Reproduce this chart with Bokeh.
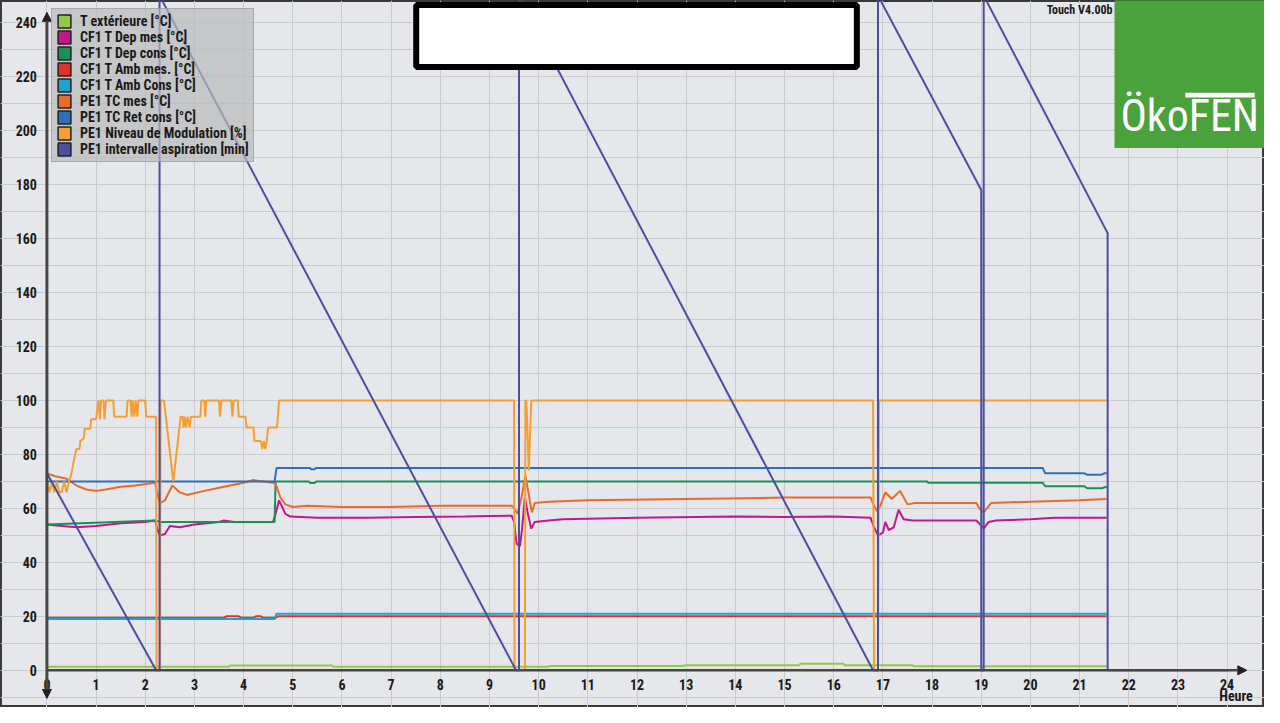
from bokeh.plotting import figure
from bokeh.models import Range1d, FixedTicker, Legend, LegendItem, Arrow, NormalHead, Label
from bokeh.embed import file_html
from bokeh.resources import INLINE

# ---------------- data ----------------
x_ticks = list(range(0, 25))
y_ticks = list(range(0, 241, 20))
y_minor = list(range(-10, 241, 10))

series_names = [
    "T extérieure [°C]",
    "CF1 T Dep mes [°C]",
    "CF1 T Dep cons [°C]",
    "CF1 T Amb mes. [°C]",
    "CF1 T Amb Cons [°C]",
    "PE1 TC mes [°C]",
    "PE1 TC Ret cons [°C]",
    "PE1 Niveau de Modulation [%]",
    "PE1 intervalle aspiration [min]",
]
series_colors = ["#93c94a", "#c4168a", "#1b8f55", "#e2302b", "#1ea2d2",
                 "#e96b2c", "#2d6fba", "#f59e33", "#4b4fa0"]

t_ext_t = [0, 3.7, 3.72, 5.8, 5.82, 10.2, 10.22, 12.95, 12.97, 15.3, 15.32, 16.2, 16.22, 17.6, 17.62, 21.55]
t_ext_v = [1.3, 1.3, 1.8, 1.8, 1.3, 1.3, 1.6, 1.6, 1.9, 1.9, 2.4, 2.4, 1.9, 1.9, 1.5, 1.5]

dep_mes_t = [0, 0.3, 0.6, 1.0, 1.5, 2.0, 2.2, 2.25, 2.3, 2.4, 2.5, 2.7, 3.0, 3.5, 3.6, 3.8, 4.0, 4.6,
             4.65, 4.72, 4.85, 4.95, 5.5, 6.5, 7.5, 8.5, 9.0, 9.45, 9.5, 9.55, 9.62, 9.66, 9.72, 9.78,
             9.85, 9.92, 10.2, 10.5, 12, 14, 15, 16, 16.75, 16.82, 16.9, 17.0, 17.05, 17.12, 17.22,
             17.32, 17.42, 17.6, 18.9, 18.98, 19.05, 19.15, 19.3, 20, 20.5, 21.55]
dep_mes_v = [54, 53.5, 53, 53.5, 54.5, 55, 55.5, 52, 50, 50.5, 53.5, 53, 54, 55, 55.5, 55, 55, 55,
             58, 63, 58, 57, 56.5, 56.5, 56.8, 57, 57.2, 57.3, 55, 47, 46, 52, 64, 58,
             52.5, 55, 55.5, 56, 56.5, 57, 56.8, 57, 56.5, 53, 50, 51, 55, 52, 53,
             59.5, 56, 55.5, 55.5, 54, 52.5, 55, 55.5, 56, 56.5, 56.5]

dep_cons_t = [0, 2.2, 2.3, 4.63, 4.65, 5.33, 5.35, 5.45, 5.47, 17.9, 17.92, 20.25, 20.3, 21.1, 21.15, 21.45, 21.55]
dep_cons_v = [54, 55.5, 55, 55, 70, 70, 69.4, 69.4, 70, 70, 69.5, 69.5, 68.2, 68.2, 67.5, 67.5, 68]

amb_mes_t = [0, 3.6, 3.65, 3.9, 3.95, 4.2, 4.25, 4.35, 4.4, 4.65, 4.7, 21.55]
amb_mes_v = [19.5, 19.5, 20, 20, 19.5, 19.5, 20, 20, 19.5, 19.5, 20, 20]

amb_cons_t = [0, 4.63, 4.67, 21.55]
amb_cons_v = [19, 19, 21, 21]

tc_mes_t = [0, 0.15, 0.4, 0.6, 0.8, 1.0, 1.2, 1.5, 1.8, 2.2, 2.24, 2.3, 2.4, 2.55, 2.7, 2.85, 3.2, 3.6,
            4.0, 4.2, 4.4, 4.6, 4.65, 4.75, 4.85, 5.0, 5.3, 6, 7, 8, 9, 9.45, 9.5, 9.57, 9.65, 9.73,
            9.8, 9.86, 9.92, 10.2, 11, 13, 15, 16.75, 16.82, 16.88, 16.95, 17.05, 17.18, 17.35, 17.5,
            17.65, 18.9, 18.98, 19.05, 19.2, 20, 21, 21.55]
tc_mes_v = [73, 72, 71, 68.5, 67, 66.5, 67, 68, 68.5, 69.5, 66, 62, 63, 68.5, 66, 65, 66.5, 68,
            69.5, 70.5, 70, 69.5, 69, 64, 61.5, 60.5, 61, 60.5, 60.5, 61, 61, 61, 60, 58, 64, 72,
            65, 58.5, 62, 62.5, 63, 63.5, 64, 64, 61, 59, 61, 66, 63.5, 66.5, 61.5,
            62, 62, 59.5, 58.5, 62, 62.5, 63, 63.5]

ret_cons_t = [0, 4.63, 4.67, 5.35, 5.37, 5.45, 5.47, 20.25, 20.3, 21.1, 21.15, 21.45, 21.5, 21.55]
ret_cons_v = [70, 70, 75, 75, 74.5, 74.5, 75, 75, 73, 73, 72.5, 72.5, 73, 73]

modul_t = [0, 0.05, 0.1, 0.15, 0.2, 0.25, 0.3, 0.35, 0.4, 0.45, 0.5, 0.55, 0.6, 0.66, 0.68, 0.75,
           0.77, 0.88, 0.9, 1.0, 1.05, 1.08, 1.1, 1.15, 1.17, 1.2, 1.35, 1.37, 1.62, 1.64, 1.7,
           1.72, 1.74, 1.78, 1.8, 1.84, 1.86, 2.0, 2.02, 2.22, 2.23, 2.3, 2.31, 2.38, 2.57, 2.72,
           2.76, 2.78, 2.8, 2.83, 2.86, 2.9, 2.93, 3.12, 3.14, 3.2, 3.22, 3.24, 3.5, 3.52, 3.55,
           3.75, 3.77, 3.8, 3.88, 3.9, 4.04, 4.06, 4.2, 4.22, 4.35, 4.38, 4.41, 4.44, 4.47, 4.5,
           4.68, 4.72, 9.5, 9.51, 9.72, 9.73, 9.75, 9.8, 9.85, 16.8, 16.82, 16.9, 16.92, 21.55]
modul_v = [70, 66, 70, 66, 70, 66, 66, 70, 66, 70, 73, 78, 82, 82, 85, 86,
           89.5, 89.5, 93, 93, 100, 93, 100, 100, 93, 100, 100, 94, 94, 100, 100,
           94, 100, 94, 100, 94, 100, 100, 94, 94, 0, 0, 100, 100, 70, 94,
           94, 90, 94, 90, 94, 90, 94, 94, 100, 100, 94, 100, 100, 94, 100,
           100, 94, 100, 100, 94, 94, 90, 90, 85, 85, 82, 85, 82, 85, 90,
           90, 100, 100, 0, 0, 100, 100, 74, 100, 100, 0, 0, 100, 100]

aspir_t = [0, 0, 2.22, 2.29, 2.29, 9.54, 9.6, 9.6, 16.8, 16.9, 16.9, 19.0, 19.0, 19.05, 19.05, 21.57, 21.57, 24]
aspir_v = [0, 73, 0, 0, 250, 0, 0, 250, 0, 0, 250, 178, 0, 0, 250, 162, 0, 0]

series_t = [t_ext_t, dep_mes_t, dep_cons_t, amb_mes_t, amb_cons_t, tc_mes_t, ret_cons_t, modul_t, aspir_t]
series_v = [t_ext_v, dep_mes_v, dep_cons_v, amb_mes_v, amb_cons_v, tc_mes_v, ret_cons_v, modul_v, aspir_v]

# ---------------- styles ----------------
BG = "#e5e7ea"
GRID = "#c8cbd0"
AXIS = "#474747"
FONT = "Liberation Sans Narrow, Roboto Condensed, DejaVu Sans Condensed, sans-serif"
NAN = float("nan")

p = figure(width=1264, height=707, output_backend="svg", toolbar_location=None,
           x_range=Range1d(-0.944, 24.76), y_range=Range1d(-13.77, 248.2),
           min_border=0, background_fill_color=BG, border_fill_color=BG,
           outline_line_color="#3a3a3a", outline_line_width=3)

# axes inside the frame
p.xaxis.fixed_location = 0
p.yaxis.fixed_location = 0
p.xaxis.ticker = FixedTicker(ticks=x_ticks)
p.yaxis.ticker = FixedTicker(ticks=y_ticks, minor_ticks=y_minor)
for ax in (p.xaxis, p.yaxis):
    ax.axis_line_color = None
    ax.major_tick_line_color = None
    ax.minor_tick_line_color = None
    ax.major_label_text_font = FONT
    ax.major_label_text_font_style = "bold"
    ax.major_label_text_font_size = "14px"
    ax.major_label_text_color = "#1a1a1a"
p.xaxis.major_label_text_align = "left"
p.xaxis.major_label_standoff = 3
p.yaxis.major_label_standoff = 4

p.xgrid.grid_line_color = GRID
p.ygrid.grid_line_color = GRID
p.ygrid.minor_grid_line_color = GRID

# series lines
for t, v, c in zip(series_t, series_v, series_colors):
    p.line(t, v, line_color=c, line_width=2)

# axis arrows
p.add_layout(Arrow(start=NormalHead(size=9, fill_color="#222222", line_color="#222222"),
                   end=NormalHead(size=9, fill_color="#222222", line_color="#222222"),
                   x_start=0, y_start=-10.4, x_end=0, y_end=243.8,
                   line_color=AXIS, line_width=3))
p.add_layout(Arrow(end=NormalHead(size=9, fill_color="#222222", line_color="#222222"),
                   x_start=0, y_start=0, x_end=24.4, y_end=0,
                   line_color=AXIS, line_width=2.5))

p.add_layout(Label(x=24.52, y=-9.4, text="Heure", text_align="right", text_baseline="alphabetic",
                   text_font=FONT, text_font_style="bold", text_font_size="14px", text_color="#1a1a1a"))

# title box (empty white frame)
p.quad(left=[7.51], right=[16.47], top=[246.5], bottom=[223.6],
       fill_color="white", line_color="black", line_width=6)

# logo
p.quad(left=[21.71], right=[25.5], top=[252], bottom=[193.5],
       fill_color="#4aa23c", line_color=None)
p.add_layout(Label(x=21.83, y=205.5, text="ÖkoFEN", text_align="left", text_baseline="alphabetic",
                   text_font=FONT, text_font_size="44px", text_color="white"))
p.quad(left=[23.15], right=[24.56], top=[214.0], bottom=[212.3],
       fill_color="white", line_color=None)
p.add_layout(Label(x=21.67, y=247.3, text="Touch V4.00b", text_align="right", text_baseline="top",
                   text_font=FONT, text_font_style="bold", text_font_size="12px", text_color="#1a1a1a"))

# legend with square swatches
items = []
for name, c in zip(series_names, series_colors):
    r = p.quad(left=[NAN], right=[NAN], top=[NAN], bottom=[NAN], fill_color=c,
               line_color="#222222", line_width=1.5)
    items.append(LegendItem(label=name, renderers=[r]))
legend = Legend(items=items, location=(51, 545), margin=0, padding=4, spacing=0,
                glyph_width=16, glyph_height=16, label_height=16, label_standoff=8,
                label_text_font=FONT, label_text_font_style="bold", label_text_font_size="14px",
                label_text_color="#1a1a1a",
                background_fill_color="#b9b9b9", background_fill_alpha=0.7,
                border_line_color="#8a8a8a", border_line_width=1.5)
p.add_layout(legend)

open("out.html", "w").write(file_html(p, INLINE))
